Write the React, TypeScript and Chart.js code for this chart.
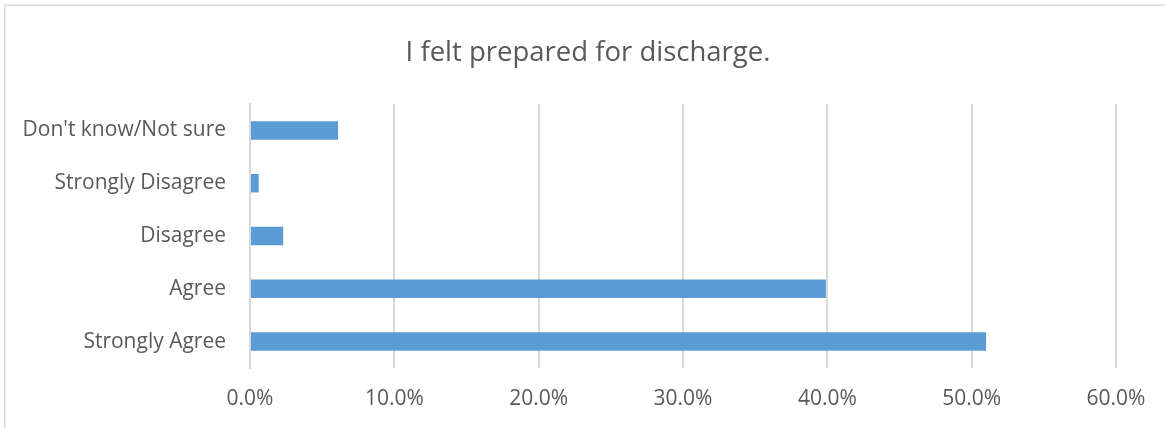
import React, { useEffect, useRef } from "react";
import { Chart, registerables } from "chart.js";

Chart.register(...registerables);

const categories = [
  "Don't know/Not sure",
  "Strongly Disagree",
  "Disagree",
  "Agree",
  "Strongly Agree",
];
const percentValues = [6.1, 0.6, 2.3, 39.9, 51.0];
const tickMin = 0;
const tickMax = 60;
const tickStep = 10;
const chartTitle = "I felt prepared for discharge.";

const FONT = "'Open Sans', 'Noto Sans', sans-serif";
const TEXT = "#595959";
const GRID = "#d9d9d9";

export default function App() {
  const ref = useRef<HTMLCanvasElement | null>(null);

  useEffect(() => {
    document.body.style.margin = "0";
    const canvas = ref.current;
    if (!canvas) return;
    const framePlugin = {
      id: "frame",
      beforeDraw(chart: any) {
        const ctx = chart.ctx;
        ctx.save();
        ctx.fillStyle = "#ffffff";
        ctx.fillRect(0, 0, chart.width, chart.height);
        ctx.strokeStyle = GRID;
        ctx.lineWidth = 1.5;
        ctx.strokeRect(4.75, 5.25, chart.width + 20, chart.height + 20);
        ctx.restore();
      },
      afterDraw(chart: any) {
        const ctx = chart.ctx;
        ctx.save();
        ctx.fillStyle = TEXT;
        ctx.font = `normal 27.5px ${FONT}`;
        ctx.textAlign = "center";
        ctx.textBaseline = "middle";
        ctx.fillText(chartTitle, 588, 53);
        ctx.restore();
      },
    };
    const chart = new Chart(canvas, {
      type: "bar",
      data: {
        labels: categories,
        datasets: [
          {
            data: percentValues,
            backgroundColor: "#5b9bd5",
            borderWidth: 0,
            barPercentage: 0.35,
            categoryPercentage: 1,
          },
        ],
      },
      options: {
        indexAxis: "y",
        responsive: false,
        animation: false,
        layout: { padding: { left: 0, right: 49, top: 104, bottom: 0 } },
        plugins: {
          legend: { display: false },
          tooltip: { enabled: false },
          title: { display: false },
        },
        scales: {
          x: {
            min: tickMin,
            max: tickMax,
            border: { display: false },
            grid: { color: GRID, lineWidth: 2, drawTicks: false },
            ticks: {
              stepSize: tickStep,
              color: TEXT,
              font: { family: FONT, size: 21 },
              padding: 18,
              callback: (v: any) => Number(v).toFixed(1) + "%",
            },
            afterFit(scale: any) {
              scale.height = 60;
            },
          },
          y: {
            border: { display: true, color: GRID, width: 2 },
            grid: { display: false, drawTicks: false },
            ticks: {
              color: TEXT,
              font: { family: FONT, size: 21 },
              padding: 24,
            },
            afterFit(scale: any) {
              scale.width = 250;
            },
          },
        },
      },
      plugins: [framePlugin],
    });
    return () => chart.destroy();
  }, []);

  return (
    <div style={{ width: 1165, height: 428 }}>
      <canvas ref={ref} width={1165} height={428} style={{ display: "block" }} />
    </div>
  );
}
